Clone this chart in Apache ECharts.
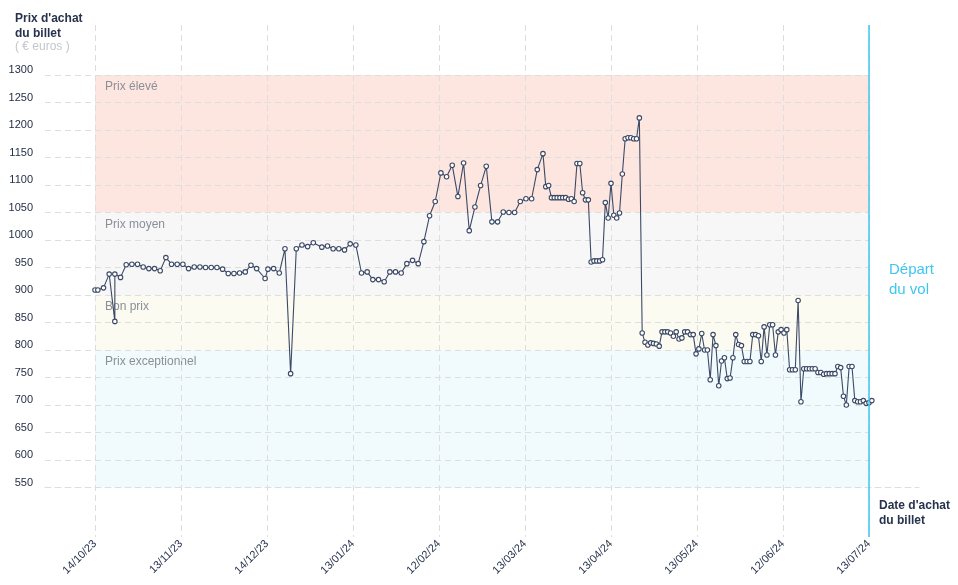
<!DOCTYPE html>
<html>
<head>
<meta charset="utf-8">
<script src="https://cdn.jsdelivr.net/npm/echarts@6/dist/echarts.min.js"></script>
<style>html,body{margin:0;padding:0;background:#fff;}#chart{width:958px;height:585px;}</style>
</head>
<body>
<div id="chart"></div>
<script>
// x tick labels (10 evenly spaced ticks over 273 days)
const xTickLabels = ['14/10/23','13/11/23','14/12/23','13/01/24','12/02/24','13/03/24','13/04/24','13/05/24','12/06/24','13/07/24'];
// days since 14/10/23 for each purchase-date observation
const purchaseDay = [
  0,1,3,5,7,7,9,11,13,15,17,19,21,23,25,27,29,31,33,35,37,39,41,43,45,47,49,51,53,55,57,
  60,61,63,65,67,69,71,73,75,77,
  80,82,84,86,88,90,92,94,96,98,100,102,104,106,108,110,112,114,116,118,
  120,122,124,126,128,130,132,134,136,138,140,142,144,146,148,150,152,154,156,158,
  159,160,161,162,163,164,165,166,167,168,169,170,171,172,173,174,175,176,177,178,
  179,180,181,182,183,184,185,186,187,188,189,190,191,192,193,194,195,196,197,198,
  199,200,201,202,203,204,205,206,207,208,209,210,211,212,213,214,215,216,217,218,
  219,220,221,222,223,224,225,226,227,228,229,230,231,232,233,234,235,236,237,238,
  239,240,241,242,243,244,245,246,247,248,249,250,251,252,253,254,255,256,257,258,
  259,260,261,262,263,264,265,266,267,268,269,270,271,272,273,274
];
// ticket price (euros)
const ticketPrice = [
  909,909,913,938,852,938,932,955,956,956,951,948,948,944,968,956,956,956,948,951,951,950,950,950,947,939,939,940,942,954,948,
  930,947,948,940,984,757,984,991,988,995,
  987,989,984,984,982,993,991,940,942,928,928,924,942,942,940,957,963,957,997,1044,
  1070,1122,1115,1136,1079,1140,1017,1060,1099,1134,1033,1033,1051,1050,1050,1070,1075,1075,1128,1157,
  1097,1099,1077,1077,1077,1077,1077,1077,1074,1075,1070,1139,1139,1086,1073,1073,960,962,962,962,
  964,1068,1040,1103,1045,1040,1049,1120,1184,1186,1186,1184,1184,1222,831,814,809,813,812,811,
  807,833,833,833,831,825,833,820,822,833,833,828,828,793,802,830,800,800,746,828,
  808,735,780,786,748,749,786,828,810,808,779,779,779,828,828,826,779,842,791,846,
  846,791,833,837,831,837,764,764,764,890,706,766,766,766,766,766,759,759,756,757,
  757,757,757,770,768,716,700,770,770,708,706,706,708,703,704,708
];
// price bands
const bandNames = ['Prix élevé','Prix moyen','Bon prix','Prix exceptionnel'];
const bandHigh = [1300,1050,900,800];
const bandLow = [1050,900,800,550];
const bandColors = ['#fde6e0','#f7f7f7','#fbfbf1','#f1fafd'];
const yAxisTitle = ["Prix d'achat", 'du billet', '( € euros )'];
const xAxisTitle = ["Date d'achat", 'du billet'];
const departLabel = ['Départ', 'du vol'];
const lastDay = 273;

const HOURS = 24;
const xMax = lastDay * HOURS;
const xInterval = xMax / (xTickLabels.length - 1);
const FONT = '"Liberation Sans", Arial, sans-serif';
const GRID_COLOR = '#dedede';
const NAVY = '#27324d';
const CYAN = '#3fc6f0';

const seriesData = purchaseDay.map((d, i) => [d * HOURS, ticketPrice[i]]);

const bandAreas = bandNames.map((name, i) => [
  {name: name, xAxis: 0, yAxis: bandHigh[i], itemStyle: {color: bandColors[i]}},
  {xAxis: xMax, yAxis: bandLow[i]}
]);

const chart = echarts.init(document.getElementById('chart'), null, {renderer: 'canvas'});
chart.setOption({
  animation: false,
  textStyle: {fontFamily: FONT},
  grid: [
    {left: 95, right: 89, top: 25, bottom: 48},
    {left: 45, right: 89, top: 75, bottom: 97.5},
    {left: 45, right: 39, top: 486.5, height: 1}
  ],
  xAxis: [
    {
      gridIndex: 0, type: 'value', min: 0, max: xMax, interval: xInterval, z: 1,
      axisLine: {show: false}, axisTick: {show: false},
      splitLine: {show: true, lineStyle: {color: GRID_COLOR, type: [6, 4], width: 1}},
      axisLabel: {
        rotate: 45, margin: 5, fontSize: 11, color: NAVY, fontFamily: FONT,
        formatter: v => xTickLabels[Math.round(v / xInterval)] || ''
      }
    },
    {gridIndex: 1, type: 'value', min: 0, max: 1, show: false},
    {
      gridIndex: 2, type: 'value', min: 0, max: 1, z: 1,
      axisLine: {show: true, onZero: false, lineStyle: {color: GRID_COLOR, type: [6, 4], width: 1}},
      axisTick: {show: false}, axisLabel: {show: false}, splitLine: {show: false}
    }
  ],
  yAxis: [
    {gridIndex: 0, type: 'value', min: 460, max: 460 + 512 / 0.55, show: false},
    {
      gridIndex: 1, type: 'value', min: 550, max: 1300, interval: 50, z: 1,
      axisLine: {show: false}, axisTick: {show: false},
      splitLine: {show: true, lineStyle: {color: GRID_COLOR, type: [6, 4], width: 1}},
      axisLabel: {margin: 12, fontSize: 11, color: '#1f2940', fontFamily: FONT, verticalAlign: 'bottom', lineHeight: 10,
        formatter: v => String(v)}
    },
    {gridIndex: 2, type: 'value', min: 0, max: 1, show: false}
  ],
  series: [{
    type: 'line',
    xAxisIndex: 0, yAxisIndex: 0,
    data: seriesData,
    clip: false,
    z: 3,
    showAllSymbol: true,
    symbol: 'circle',
    symbolSize: 4.5,
    lineStyle: {color: '#3d4a66', width: 1.1},
    itemStyle: {color: '#ffffff', borderColor: '#3d4a66', borderWidth: 1.1},
    markArea: {
      silent: true,
      z: 0,
      label: {show: true, position: 'insideTopLeft', distance: 0, offset: [10, 6], fontSize: 12, color: '#8b8f98', fontFamily: FONT},
      data: bandAreas
    },
    markLine: {
      silent: true,
      symbol: ['none', 'none'],
      label: {show: false},
      lineStyle: {color: CYAN, width: 1.5, type: 'solid'},
      data: [{xAxis: xMax}]
    }
  }],
  graphic: [
    {type: 'text', x: 15, y: 19, style: {text: yAxisTitle[0], font: 'bold 12px ' + FONT, fill: NAVY, verticalAlign: 'middle'}},
    {type: 'text', x: 15, y: 34, style: {text: yAxisTitle[1], font: 'bold 12px ' + FONT, fill: NAVY, verticalAlign: 'middle'}},
    {type: 'text', x: 15, y: 47, style: {text: yAxisTitle[2], font: '12px ' + FONT, fill: '#c3c6cc', verticalAlign: 'middle'}},
    {type: 'text', x: 879, y: 506, style: {text: xAxisTitle[0], font: 'bold 12px ' + FONT, fill: NAVY, verticalAlign: 'middle'}},
    {type: 'text', x: 879, y: 521, style: {text: xAxisTitle[1], font: 'bold 12px ' + FONT, fill: NAVY, verticalAlign: 'middle'}},
    {type: 'text', x: 889, y: 270, style: {text: departLabel[0], font: '15px ' + FONT, fill: CYAN, verticalAlign: 'middle'}},
    {type: 'text', x: 889, y: 290, style: {text: departLabel[1], font: '15px ' + FONT, fill: CYAN, verticalAlign: 'middle'}}
  ]
});
</script>
</body>
</html>
